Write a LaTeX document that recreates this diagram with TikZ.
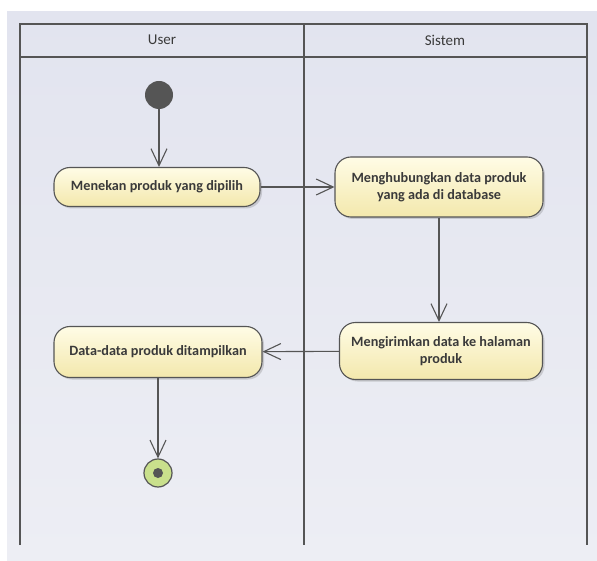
\documentclass[tikz,border=0pt]{standalone}
\usepackage{fontspec}
\setmainfont{Carlito}
\usetikzlibrary{arrows.meta,shadows}
\definecolor{bgtop}{HTML}{E2E4EF}
\definecolor{bgbot}{HTML}{EDEEF4}
\definecolor{linecol}{HTML}{555555}
\definecolor{txtcol}{HTML}{3A3A3A}
\definecolor{acttop}{HTML}{FFFCE6}
\definecolor{actbot}{HTML}{F3E8AC}
\definecolor{endfill}{HTML}{C9E08C}
\tikzset{
  action/.style={draw=linecol, line width=1.1pt, rounded corners=16pt,
    top color=acttop, bottom color=actbot, text=txtcol,
    font=\fontsize{14.2}{17}\selectfont\bfseries, align=center,
    inner sep=0pt,
    drop shadow={shadow xshift=2pt, shadow yshift=-2pt, opacity=0.25, fill=black!60}},
  flow/.style={draw=linecol, line width=1.1pt,
    -{Straight Barb[length=17pt,width=16pt,line width=1.1pt]}},
  lane/.style={draw=linecol, line width=1.4pt},
  lanetitle/.style={text=txtcol, font=\fontsize{15}{17}\selectfont},
}
\begin{document}
\begin{tikzpicture}[x=1pt,y=-1pt]
  \useasboundingbox (0,0) rectangle (597,561);
  \shade[top color=bgtop, bottom color=bgbot] (7,12) rectangle (597,561);

  % swimlanes (open at the bottom)
  \draw[lane] (20,545) -- (20,24) -- (587,24) -- (587,545);
  \draw[lane] (20,57) -- (587,57);
  \draw[lane] (304,24) -- (304,545);
  \node[lanetitle] (tuser) at (162,40) {User};
  \node[lanetitle] (tsys) at (445,40) {Sistem};

  % start and end
  \node[circle, fill=linecol, minimum size=28pt, inner sep=0pt] (start) at (159,95) {};
  \node[circle, draw=linecol, line width=1.2pt, fill=endfill, minimum size=28pt, inner sep=0pt] (end) at (158,473) {};
  \node[circle, fill=linecol, minimum size=10pt, inner sep=0pt] (endin) at (end.center) {};

  % actions
  \node[action, minimum width=206pt, minimum height=39pt] (a1) at (157,187) {Menekan produk yang dipilih};
  \node[action, minimum width=208pt, minimum height=60pt] (a2) at (439,187) {Menghubungkan data produk\\yang ada di database};
  \node[action, minimum width=203pt, minimum height=57pt] (a3) at (441,351) {Mengirimkan data ke halaman\\produk};
  \node[action, minimum width=208pt, minimum height=51pt] (a4) at (158,352) {Data-data produk ditampilkan};

  % control flow
  \draw[flow] (start) -- (start |- a1.north);
  \draw[flow] (a1) -- (a2);
  \draw[flow] (a2.south) -- (a2.south |- a3.north);
  \draw[flow] (a3) -- (a4);
  \draw[flow] (a4.south -| end) -- (end);
\end{tikzpicture}
\end{document}
